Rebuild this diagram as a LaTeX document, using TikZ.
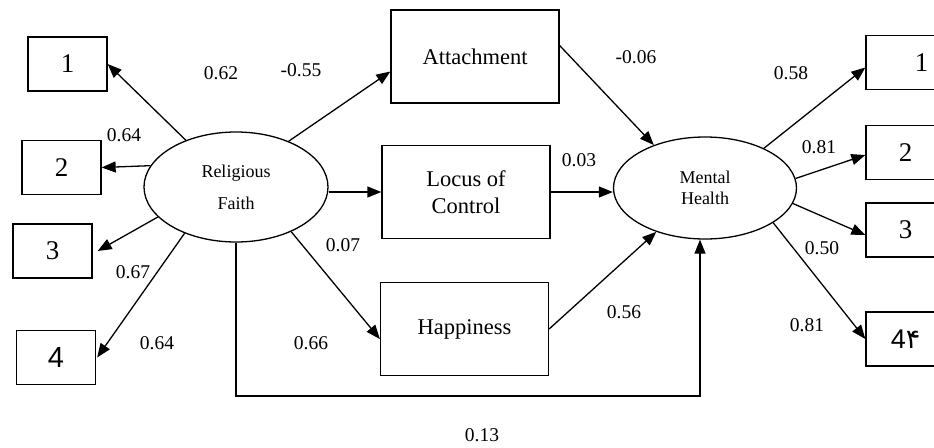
\documentclass[tikz,border=0pt]{standalone}
\usepackage{fontspec}
\setmainfont{Liberation Serif}
\newfontfamily\arialfont{Liberation Sans}
\newfontfamily\farsidigits[Script=Arabic]{DejaVu Sans}
\usetikzlibrary{arrows.meta,shapes.geometric}

\begin{document}
\begin{tikzpicture}[x=1pt,y=-1pt,line width=1.3pt,
  >={Triangle[length=14pt,width=11pt]},
  itembox/.style={draw,minimum width=79pt,minimum height=54pt,inner sep=0pt,font=\fontsize{27}{30}\selectfont},
  varbox/.style={draw,minimum width=168pt,minimum height=93pt,align=center,font=\fontsize{22.5}{27}\selectfont},
  factor/.style={draw,ellipse,inner sep=0pt,align=center},
  coef/.style={inner sep=0pt,font=\fontsize{19.5}{22}\selectfont}]
\useasboundingbox (0,0) rectangle (934,447);
% latent variables
\node[factor,minimum width=184pt,minimum height=110pt,font=\fontsize{18}{32}\selectfont] (rf) at (236,187) {Religious\\Faith};
\node[factor,minimum width=183pt,minimum height=102pt,font=\fontsize{18}{21}\selectfont] (mh) at (705,188) {Mental\\Health};
% indicators
\node[itembox] (l1) at (67.5,64) {1};
\node[itembox] (l2) at (61.5,167.5) {2};
\node[itembox] (l3) at (52.5,251) {3};
\node[itembox,font=\arialfont\fontsize{29}{30}\selectfont] (l4) at (56,357.5) {4};
\node[itembox] (r1) at (905.5,62.5) {\hspace*{32pt}1};
\node[itembox] (r2) at (905.5,152.5) {2};
\node[itembox] (r3) at (905.5,230) {3};
\node[itembox] (r4) at (905.5,339) {{\arialfont 4}{\farsidigits ۴}};
% mediators
\node[varbox] (att) at (475,56.5) {Attachment};
\node[varbox] (loc) at (466,192) {Locus of\\Control};
\node[varbox] (hap) at (464.5,329) {Happiness};
% paths
\draw[->] (rf.137) -- (l1.east);
\draw[->] (rf.166) -- (l2.east);
\draw[->] (rf.201) -- ([xshift=5pt]l3.east);
\draw[->] (rf.222) -- ([xshift=1pt]l4.east);
\draw[->] (rf.41) -- ([yshift=-15pt]att.west);
\draw[->] (rf.east |- loc.west) -- (loc.west);
\draw[->] (rf.321) -- ([yshift=-10pt]hap.west);
\draw[->] ([yshift=11pt]att.east) -- (mh.140);
\draw[->] (loc.east) -- (loc.east -| mh.west);
\draw[->] (hap.east) -- (mh.222);
\coordinate (loop) at (0,396);
\coordinate (mhfoot) at ([xshift=-5pt]mh.south);
\draw[->] (rf.south) |- (loop -| mhfoot) -- (mhfoot);
\draw[->] (mh.34) -- ([yshift=-5pt]r1.west);
\draw[->] (mh.6) -- ([yshift=-2.5pt]r2.west);
\draw[->] (mh.350) -- ([yshift=-5pt]r3.west);
\draw[->] (mh.333) -- (r4.west);
% coefficients
\node[coef] (c1) at (221,73) {0.62};
\node[coef] (c2) at (124,135) {0.64};
\node[coef] (c3) at (133,272) {0.67};
\node[coef] (c4) at (157,343) {0.64};
\node[coef] (c5) at (301,70) {-0.55};
\node[coef] (c6) at (343,245) {0.07};
\node[coef] (c7) at (311,343) {0.66};
\node[coef] (c8) at (636,57) {-0.06};
\node[coef] (c9) at (579,160) {0.03};
\node[coef] (c10) at (624,312) {0.56};
\node[coef] (c11) at (482,435) {0.13};
\node[coef] (c12) at (791,73) {0.58};
\node[coef] (c13) at (819,147) {0.81};
\node[coef] (c14) at (822,248) {0.50};
\node[coef] (c15) at (807,325) {0.81};
\end{tikzpicture}
\end{document}
